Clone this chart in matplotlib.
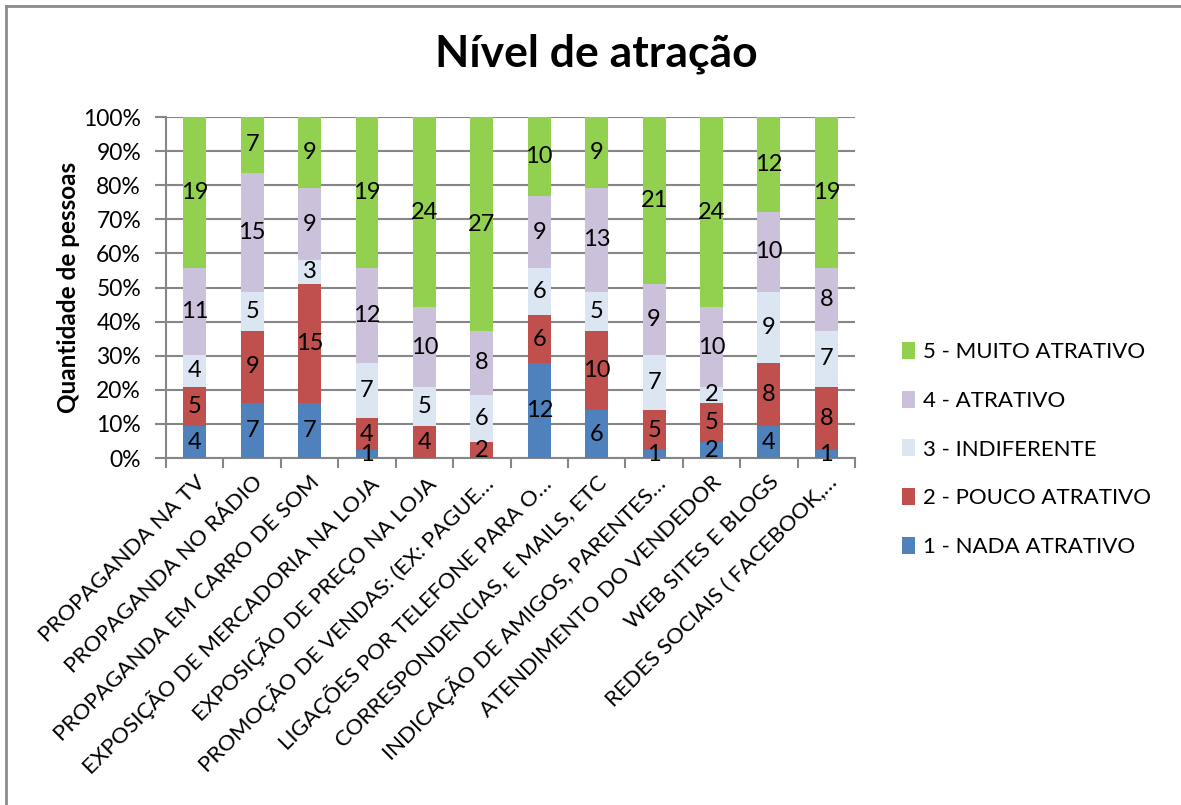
import numpy as np
import matplotlib.pyplot as plt
from matplotlib.lines import Line2D

plt.rcParams['font.family'] = ['Lato', 'DejaVu Sans']

categorias = [
    'PROPAGANDA NA TV',
    'PROPAGANDA NO RÁDIO',
    'PROPAGANDA EM CARRO DE SOM',
    'EXPOSIÇÃO DE MERCADORIA NA LOJA',
    'EXPOSIÇÃO DE PREÇO NA LOJA',
    'PROMOÇÃO DE VENDAS: (EX: PAGUE…',
    'LIGAÇÕES POR TELEFONE PARA O…',
    'CORRESPONDENCIAS, E MAILS, ETC',
    'INDICAÇÃO DE AMIGOS, PARENTES…',
    'ATENDIMENTO DO VENDEDOR',
    'WEB SITES E BLOGS',
    'REDES SOCIAIS ( FACEBOOK,…',
]

nada = [4, 7, 7, 1, 0, 0, 12, 6, 1, 2, 4, 1]
pouco = [5, 9, 15, 4, 4, 2, 6, 10, 5, 5, 8, 8]
indiferente = [4, 5, 3, 7, 5, 6, 6, 5, 7, 2, 9, 7]
atrativo = [11, 15, 9, 12, 10, 8, 9, 13, 9, 10, 10, 8]
muito = [19, 7, 9, 19, 24, 27, 10, 9, 21, 24, 12, 19]

series = [
    ('1 - NADA ATRATIVO', nada, '#4F81BD'),
    ('2 - POUCO ATRATIVO', pouco, '#C0504D'),
    ('3 - INDIFERENTE', indiferente, '#DCE6F2'),
    ('4 - ATRATIVO', atrativo, '#CCC1DA'),
    ('5 - MUITO ATRATIVO', muito, '#92D050'),
]

totais = np.sum([np.array(s[1]) for s in series], axis=0)

fig = plt.figure(figsize=(11.81, 8.05), dpi=100)
ax = fig.add_axes([0.1406, 0.431, 0.5834, 0.4236])

x = np.arange(len(categorias))
base = np.zeros(len(categorias))
handles = []
for nome, valores, cor in series:
    v = np.array(valores)
    frac = v / totais * 100
    b = ax.bar(x, frac, 0.4, bottom=base, color=cor, linewidth=0, label=nome, zorder=3)
    handles.append(b)
    for xi, fi, bi, vi in zip(x, frac, base, v):
        if vi > 0:
            ax.text(xi, bi + fi / 2, str(vi), ha='center', va='center', fontsize=17, zorder=4)
    base += frac

ax.set_xlim(-0.5, len(categorias) - 0.5)
ax.set_ylim(0, 100)
ax.set_yticks(np.arange(0, 101, 10))
ax.set_yticklabels([f'{t}%' for t in range(0, 101, 10)], fontsize=16.5)
ax.yaxis.grid(True, color='#868686', linewidth=1.5, zorder=0)
ax.set_axisbelow(True)

ax.set_xticks(x)
ax.set_xticklabels(categorias, rotation=45, ha='right', rotation_mode='anchor', fontsize=16)
ax.tick_params(axis='x', length=0, pad=10)
ax.set_xticks(np.arange(-0.5, len(categorias)), minor=True)
ax.tick_params(axis='x', which='minor', length=7, width=1.5, color='#868686')
ax.tick_params(axis='y', length=8, width=1.5, color='#868686', pad=10)

for lado in ['top', 'right']:
    ax.spines[lado].set_visible(False)
for lado in ['left', 'bottom']:
    ax.spines[lado].set_color('#868686')
    ax.spines[lado].set_linewidth(1.5)

ax.set_ylabel('Quantidade de pessoas', fontsize=17.5, fontweight='bold', labelpad=2)
fig.suptitle('Nível de atração', x=0.505, y=0.958, fontsize=32, fontweight='bold')

ax.legend(handles[::-1], [s[0] for s in series][::-1], loc='center left',
          bbox_to_anchor=(1.068, 0.025), frameon=False, fontsize=16,
          borderaxespad=0, borderpad=0,
          handlelength=0.6, handleheight=0.8, handletextpad=0.35, labelspacing=1.28)

# moldura do gráfico
fig.add_artist(Line2D([6 / 1181, 6 / 1181], [0, 1 - 6 / 805], color='#8c8c8c', linewidth=2))
fig.add_artist(Line2D([6 / 1181, 1], [1 - 6 / 805, 1 - 6 / 805], color='#8c8c8c', linewidth=2))

fig.savefig('out.png', dpi=100)
